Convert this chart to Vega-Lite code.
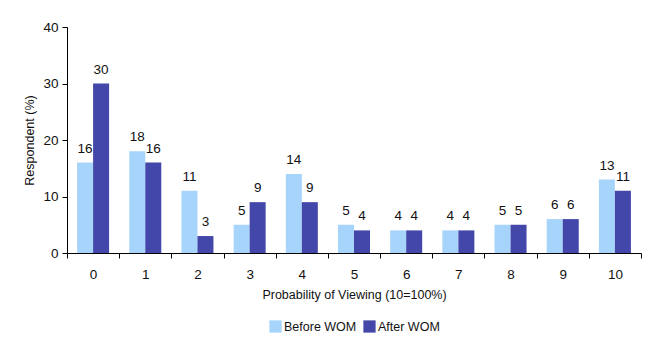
{
  "$schema": "https://vega.github.io/schema/vega-lite/v6.json",
  "autosize": "none",
  "width": 574,
  "height": 226,
  "padding": {"left": 67, "top": 27, "right": 12, "bottom": 88},
  "background": "white",
  "data": {
    "values": [
      {"score": "0", "group": "Before WOM", "pct": 16},
      {"score": "0", "group": "After WOM", "pct": 30},
      {"score": "1", "group": "Before WOM", "pct": 18},
      {"score": "1", "group": "After WOM", "pct": 16},
      {"score": "2", "group": "Before WOM", "pct": 11},
      {"score": "2", "group": "After WOM", "pct": 3},
      {"score": "3", "group": "Before WOM", "pct": 5},
      {"score": "3", "group": "After WOM", "pct": 9},
      {"score": "4", "group": "Before WOM", "pct": 14},
      {"score": "4", "group": "After WOM", "pct": 9},
      {"score": "5", "group": "Before WOM", "pct": 5},
      {"score": "5", "group": "After WOM", "pct": 4},
      {"score": "6", "group": "Before WOM", "pct": 4},
      {"score": "6", "group": "After WOM", "pct": 4},
      {"score": "7", "group": "Before WOM", "pct": 4},
      {"score": "7", "group": "After WOM", "pct": 4},
      {"score": "8", "group": "Before WOM", "pct": 5},
      {"score": "8", "group": "After WOM", "pct": 5},
      {"score": "9", "group": "Before WOM", "pct": 6},
      {"score": "9", "group": "After WOM", "pct": 6},
      {"score": "10", "group": "Before WOM", "pct": 13},
      {"score": "10", "group": "After WOM", "pct": 11}
    ]
  },
  "encoding": {
    "x": {
      "field": "score",
      "type": "nominal",
      "sort": ["0", "1", "2", "3", "4", "5", "6", "7", "8", "9", "10"],
      "scale": {"paddingInner": 0, "paddingOuter": 0},
      "axis": {
        "title": "Probability of Viewing (10=100%)",
        "labelAngle": 0,
        "tickBand": "extent",
        "tickSize": 5,
        "labelPadding": 9,
        "titlePadding": 8
      }
    },
    "xOffset": {
      "field": "group",
      "type": "nominal",
      "sort": ["Before WOM", "After WOM"],
      "scale": {"paddingInner": 0, "paddingOuter": 0.63}
    },
    "y": {
      "field": "pct",
      "type": "quantitative",
      "scale": {"domain": [0, 40]},
      "axis": {
        "title": "Respondent (%)",
        "values": [0, 10, 20, 30, 40],
        "grid": false,
        "tickSize": 5,
        "labelPadding": 4,
        "titlePadding": 6
      }
    }
  },
  "layer": [
    {
      "mark": {"type": "bar"},
      "encoding": {
        "color": {
          "field": "group",
          "type": "nominal",
          "sort": ["Before WOM", "After WOM"],
          "scale": {"domain": ["Before WOM", "After WOM"], "range": ["#A7D4FB", "#4347A9"]},
          "legend": {
            "title": null,
            "orient": "bottom",
            "direction": "horizontal",
            "symbolType": "square",
            "symbolSize": 150,
            "symbolStrokeWidth": 0,
            "labelFontSize": 12.5,
            "labelColor": "#111",
            "columnPadding": 6,
            "labelOffset": 2,
            "offset": 19
          }
        }
      }
    },
    {
      "mark": {"type": "text", "baseline": "alphabetic", "dy": -10, "fontSize": 13.5, "color": "#111"},
      "encoding": {"text": {"field": "pct", "type": "quantitative"}}
    }
  ],
  "config": {
    "font": "Liberation Sans",
    "view": {"stroke": null},
    "axis": {
      "domainColor": "#000",
      "tickColor": "#000",
      "labelColor": "#111",
      "titleColor": "#111",
      "labelFontSize": 13.5,
      "titleFontSize": 12.5,
      "titleFontWeight": "normal"
    },
    "legend": {"layout": {"bottom": {"anchor": "middle"}}}
  }
}
